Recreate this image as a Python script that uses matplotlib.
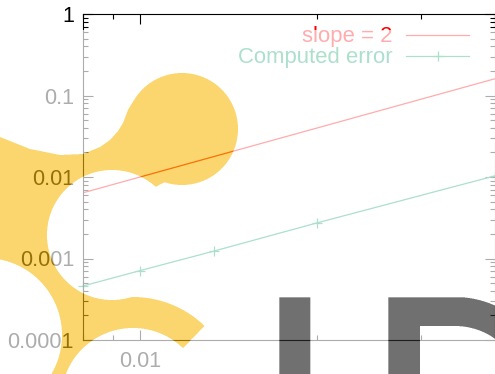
import numpy as np
import matplotlib
matplotlib.use("Agg")
import matplotlib.pyplot as plt
from matplotlib.path import Path
from matplotlib.ticker import LogLocator, FuncFormatter, NullFormatter

# ==========================================
# 1. DATA
# ==========================================
step_sizes = [1 / 125, 1 / 100, 1 / 75, 1 / 50, 1 / 25]
computed_error = [4.6e-4, 7.1e-4, 1.23e-3, 2.74e-3, 1.03e-2]

# reference line with slope 2 (two end points are enough on log-log)
slope_x = [0.008, 0.04]
slope_y = [6.4e-3, 0.16]

x_range = (0.008, 0.04)
y_range = (1e-4, 1)
series_labels = ["slope = 2", "Computed error"]

# ==========================================
# 2. FIGURE SETUP
# ==========================================
W, H = 495, 374
plt.rcParams['font.family'] = ['Liberation Sans', 'DejaVu Sans']
FS = 15.5
KEY_FS = 15.9
RED = '#ff0000'
GREEN = '#00a060'

fig = plt.figure(figsize=(W / 100, H / 100), dpi=100)
fig.patch.set_facecolor('white')
ax = fig.add_axes([83 / W, 34 / H, 411.5 / W, 326 / H])

ax.plot(slope_x, slope_y, color=RED, lw=0.9, label=series_labels[0])
ax.plot(step_sizes, computed_error, color=GREEN, lw=0.9, marker='+',
        ms=7.2, mew=0.9, clip_on=False, label=series_labels[1])

ax.set_xscale('log')
ax.set_yscale('log')
ax.set_xlim(*x_range)
ax.set_ylim(*y_range)

plain = FuncFormatter(lambda v, p: f'{v:g}')
for axis in (ax.xaxis, ax.yaxis):
    axis.set_major_locator(LogLocator(base=10))
    axis.set_minor_locator(LogLocator(base=10, subs=np.arange(2, 10)))
    axis.set_major_formatter(plain)
    axis.set_minor_formatter(NullFormatter())

ax.tick_params(which='both', direction='in', top=True, right=True,
               width=0.8, labelsize=FS, colors='black')
ax.tick_params(which='major', length=7.2)
ax.tick_params(which='minor', length=3.6)
ax.tick_params(axis='y', pad=6.5)
ax.tick_params(axis='x', pad=8)
for sp in ax.spines.values():
    sp.set_linewidth(0.8)

# gnuplot-style key: text right aligned, sample line after it
leg = ax.legend(loc='upper right', bbox_to_anchor=(0.938, 0.962),
                frameon=False, markerfirst=False, handlelength=2.85,
                handletextpad=0.63, labelspacing=0.0, fontsize=KEY_FS,
                borderpad=0, borderaxespad=0, numpoints=1)
for txt, line in zip(leg.get_texts(), leg.get_lines()):
    txt.set_color(line.get_color())

# ==========================================
# 3. WATERMARK OVERLAY (logo drawn over the chart)
# ==========================================
ss = 3
yy, xx = np.mgrid[0:H * ss, 0:W * ss]
px = (xx + 0.5) / ss
py = (yy + 0.5) / ss


def disk(cx, cy, r):
    return (px - cx) ** 2 + (py - cy) ** 2 <= r * r


big_circle = disk(182, 129, 56)

# upper edge of the left band, running into the big circle
top_x = [0, 30, 60, 83, 100, 110, 118, 123, 128, 134, 145]
top_y = [137, 149, 155, 154, 147, 140, 131, 123, 110, 100, 90]
white_top = py < np.interp(px, top_x, top_y)

holes = white_top | disk(112, 235, 65) | disk(-15, 335, 77) | disk(133, 400, 72)
d4 = np.hypot(px - 133, py - 400)
ang = np.degrees(np.arctan2(400 - py, px - 133))
ring = (d4 >= 72) & (d4 <= 103) & (ang >= 46)
body = Path([(-5, 0), (140, 0), (140, 95), (175, 140), (165, 182), (130, 200),
             (115, 290), (115, 360), (60, 400), (-5, 400)])
in_body = body.contains_points(np.column_stack([px.ravel(), py.ravel()])).reshape(px.shape)
yellow = big_circle | ((in_body | ring) & ~holes)

letter_l = (px >= 279.3) & (px <= 310.3) & (py >= 297.3)
bowl_out = (px >= 388.3) & (py >= 297.3) & ((px <= 455) | ((px - 455) ** 2 + (py - 395) ** 2 <= 98 ** 2))
bowl_in = (px > 420) & (py >= 326) & ((px <= 455) | ((px - 455) ** 2 + (py - 395) ** 2 <= 69 ** 2))
gray = letter_l | (bowl_out & ~bowl_in)
faded = py >= 30


def down(m):
    return m.astype(float).reshape(H, ss, W, ss).mean(axis=(1, 3))


cy, cg, cf = down(yellow), down(gray), down(faded)
cw = np.clip(cf - cy - cg, 0, 1)
aY, aG, aW = 0.6, 0.68, 0.68
colY = np.array([250, 187, 13]) / 255
colG = np.array([44, 44, 44]) / 255
alpha = cy * aY + cg * aG + cw * aW
prem = (cy * aY)[..., None] * colY + (cg * aG)[..., None] * colG + (cw * aW)[..., None]
rgb = prem / np.maximum(alpha, 1e-6)[..., None]
overlay = np.dstack([np.clip(rgb, 0, 1), alpha])

ov = fig.add_axes([0, 0, 1, 1], zorder=5)
ov.imshow(overlay, extent=(0, W, H, 0), interpolation='nearest', aspect='auto')
ov.set_xlim(0, W)
ov.set_ylim(H, 0)
ov.patch.set_alpha(0)
ov.set_axis_off()

fig.savefig('out.png', dpi=100)
